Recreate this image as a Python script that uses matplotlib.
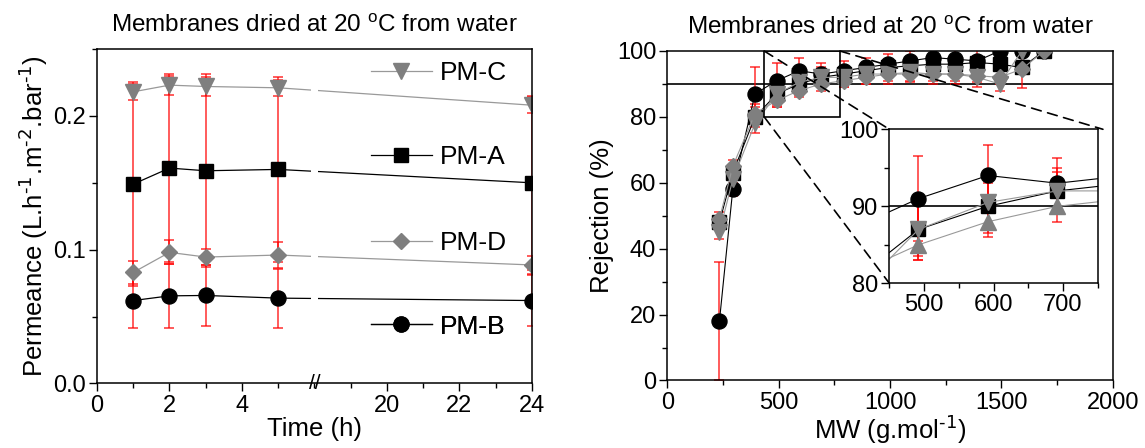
import matplotlib
matplotlib.use('Agg')
import matplotlib.pyplot as plt
from matplotlib.lines import Line2D
from matplotlib.patches import Rectangle, ConnectionPatch
from matplotlib.ticker import MultipleLocator, FixedLocator
import matplotlib.transforms as mtransforms

plt.rcParams['font.family'] = ['Liberation Sans', 'DejaVu Sans']
plt.rcParams['mathtext.default'] = 'regular'

# ---- left panel: permeance vs time
time_h = [1, 2, 3, 5, 24]
perm_c = [0.218, 0.223, 0.222, 0.221, 0.208]
perm_c_err = [0.006, 0.007, 0.007, 0.006, 0.006]
perm_a = [0.149, 0.161, 0.159, 0.160, 0.150]
perm_a_err = [0.076, 0.070, 0.072, 0.069, 0.065]
perm_d = [0.083, 0.098, 0.0945, 0.096, 0.0886]
perm_d_err = [0.0085, 0.009, 0.006, 0.010, 0.007]
perm_b = [0.062, 0.0655, 0.0658, 0.0638, 0.062]
perm_b_err = [0.0205, 0.024, 0.023, 0.022, 0.019]

time_ticks = [0, 2, 4, 20, 22, 24]

# ---- right panel: rejection vs MW
mw = [234, 294, 394, 492, 592, 692, 792, 892, 992, 1092, 1192, 1292, 1392, 1492, 1592, 1692]
rej_a = [48, 63, 80, 87, 90, 92, 93, 94, 95, 95.5, 96, 96, 96.5, 96, 95, 100]
rej_a_err = [2, 2, 3, 3.5, 3, 2.5, 2, 2, 2, 2, 2, 2, 2, 2, 2, 0]
rej_b = [18, 58, 87, 91, 94, 93, 94, 95, 96, 97, 98, 97.5, 97, 100, 100, 100]
rej_b_err = [18, 2, 8, 5.5, 4, 3.3, 3, 3, 3, 3, 3, 3, 4, 0, 0, 0]
rej_c = [45, 61, 78, 87, 90.5, 92, 92, 93, 93, 93.5, 93, 93, 92, 90, 100, 100]
rej_c_err = [2, 2, 3, 4, 4, 3, 3, 3, 3, 3, 3, 3, 3, 2, 0, 0]
rej_d = [49, 65, 81, 85, 88, 90, 91, 92, 93, 93, 93, 93, 92.5, 92, 94.5, 100]
rej_d_err = [2, 2, 3, 2, 2, 2, 2, 2, 2, 2, 2, 2, 2, 2, 5.8, 0]

GRAY = '#7f7f7f'
ERR = (1, 0, 0, 0.75)

styles = {
    'PM-C': dict(marker='v', ms=11, mfc=GRAY, mec=GRAY, color='#999999'),
    'PM-A': dict(marker='s', ms=9.6, mfc='k', mec='k', color='k'),
    'PM-D': dict(marker='D', ms=8, mfc=GRAY, mec=GRAY, color='#999999'),
    'PM-B': dict(marker='o', ms=10.8, mfc='k', mec='k', color='k'),
}

TITLE = 'Membranes dried at 20 $^{o}$C from water'


def t_axis(t):
    # broken time axis: 0-6 h then 18-24 h
    return [v if v <= 6 else v - 12 for v in t]


fig = plt.figure(figsize=(11.45, 4.48), dpi=100)

ax1 = fig.add_axes([0.0847, 0.144, 0.3799, 0.7466])
left_series = [('PM-C', perm_c, perm_c_err), ('PM-A', perm_a, perm_a_err),
               ('PM-D', perm_d, perm_d_err), ('PM-B', perm_b, perm_b_err)]
for name, y, e in left_series:
    ax1.errorbar(t_axis(time_h), y, yerr=e, lw=0.9, ecolor=ERR, elinewidth=1.2,
                 capsize=3.6, capthick=1.2, zorder=2, **styles[name])
# gap in the lines at the axis break
ax1.axvspan(5.9, 6.1, color='white', zorder=2.2, lw=0)
trans = mtransforms.blended_transform_factory(ax1.transData, ax1.transAxes)
ax1.text(6, 0, '//', transform=trans, ha='center', va='center', fontsize=15, zorder=5)

ax1.set_xlim(0, 12)
ax1.set_ylim(0, 0.25)
ax1.set_xticks(t_axis(time_ticks))
ax1.set_xticklabels([str(v) for v in time_ticks])
ax1.xaxis.set_minor_locator(MultipleLocator(1))
ax1.set_yticks([0, 0.1, 0.2])
ax1.set_yticklabels(['0.0', '0.1', '0.2'])
ax1.yaxis.set_minor_locator(MultipleLocator(0.05))
ax1.set_xlabel('Time (h)', fontsize=18.5, labelpad=0)
ax1.set_ylabel(r'Permeance (L.h$^{\text{-1}}$.m$^{\text{-2}}$.bar$^{\text{-1}}$)',
               fontsize=18.5, labelpad=2)
ax1.set_title(TITLE, fontsize=17.5, pad=12)

legend_pos = {'PM-C': 0.928, 'PM-A': 0.677, 'PM-D': 0.42, 'PM-B': 0.17}
for name, _, _ in left_series:
    h = Line2D([], [], lw=0.9, **styles[name])
    leg = ax1.legend([h], [name], loc='center left', bbox_to_anchor=(0.63, legend_pos[name]),
                     frameon=False, fontsize=19, handlelength=2.3, handletextpad=0.3,
                     borderpad=0, borderaxespad=0, numpoints=1)
    ax1.add_artist(leg)

# ---- right panel
ax2 = fig.add_axes([0.5828, 0.1507, 0.389, 0.7355])
right_series = [('PM-B', rej_b, rej_b_err), ('PM-A', rej_a, rej_a_err),
                ('PM-C', rej_c, rej_c_err), ('PM-D', rej_d, rej_d_err)]
for name, y, e in right_series:
    ax2.errorbar(mw, y, yerr=e, lw=0.8, ecolor=ERR, elinewidth=1.2,
                 capsize=3.6, capthick=1.2, zorder=2, **styles[name])
ax2.axhline(90, color='k', lw=1.2, zorder=1.5)
ax2.add_patch(Rectangle((435, 80), 340, 20, fill=False, ec='k', lw=1.2, zorder=3))
ax2.set_xlim(0, 2000)
ax2.set_ylim(0, 100)
ax2.xaxis.set_major_locator(MultipleLocator(500))
ax2.xaxis.set_minor_locator(MultipleLocator(250))
ax2.yaxis.set_major_locator(MultipleLocator(20))
ax2.yaxis.set_minor_locator(MultipleLocator(10))
ax2.set_xlabel(r'MW (g.mol$^{\text{-1}}$)', fontsize=18.5, labelpad=0)
ax2.set_ylabel('Rejection (%)', fontsize=18.5, labelpad=2)
ax2.set_title(TITLE, fontsize=17.5, pad=12)

# inset
axin = fig.add_axes([0.7767, 0.3676, 0.182, 0.3438])
for name, y, e in right_series:
    st = dict(styles[name])
    if name == 'PM-D':
        st['marker'] = '^'
        st['ms'] = 11
    axin.errorbar(mw, y, yerr=e, lw=0.8, ecolor=ERR, elinewidth=1.2,
                  capsize=3.6, capthick=1.2, zorder=2, **st)
axin.axhline(90, color='k', lw=1.2, zorder=1.5)
axin.set_xlim(450, 750)
axin.set_ylim(80, 100)
axin.xaxis.set_major_locator(FixedLocator([500, 600, 700]))
axin.xaxis.set_minor_locator(FixedLocator([450, 550, 650, 750]))
axin.yaxis.set_major_locator(FixedLocator([80, 90, 100]))
axin.yaxis.set_minor_locator(FixedLocator([85, 95]))

for ax in (ax1, ax2, axin):
    ax.tick_params(which='major', direction='out', length=6, width=1, labelsize=17, pad=2)
    ax.tick_params(which='minor', direction='out', length=3.5, width=1)
    for sp in ax.spines.values():
        sp.set_linewidth(1.1)

# dashed zoom connectors
for xa, ya, xb, yb in [(435, 100, 0, 1), (775, 100, 1.025, 1), (435, 80, 0, 0)]:
    con = ConnectionPatch(xyA=(xa, ya), coordsA=ax2.transData,
                          xyB=(xb, yb), coordsB=axin.transAxes,
                          ls=(0, (6, 4)), lw=1.2, color='k', zorder=4)
    fig.add_artist(con)

fig.savefig('out.png', dpi=100)
